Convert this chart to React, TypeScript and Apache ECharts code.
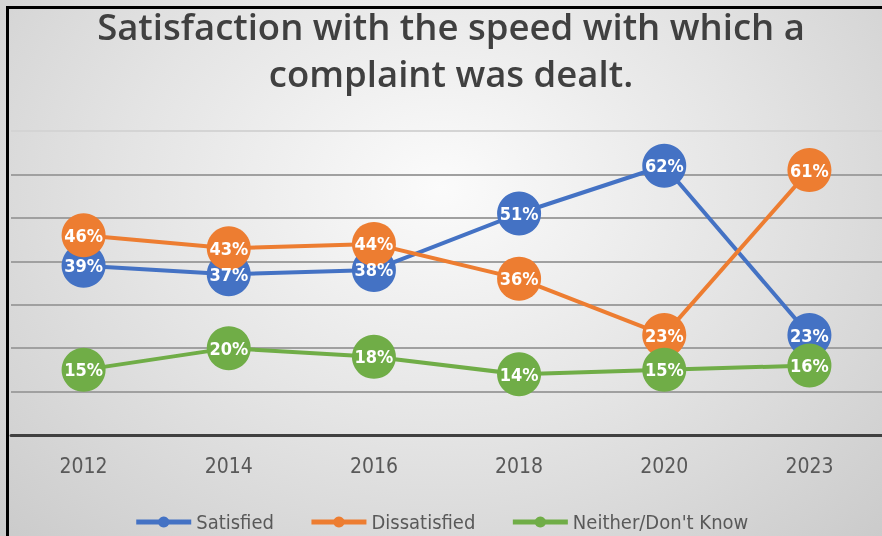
import React, { useEffect, useRef } from "react";
import * as echarts from "echarts";

const years = ["2012", "2014", "2016", "2018", "2020", "2023"];
const satisfied = [39, 37, 38, 51, 62, 23];
const dissatisfied = [46, 43, 44, 36, 23, 61];
const neither = [15, 20, 18, 14, 15, 16];
const seriesNames = ["Satisfied", "Dissatisfied", "Neither/Don't Know"];
const colors = ["#4472C4", "#ED7D31", "#70AD47"];

export default function App() {
  const ref = useRef<HTMLDivElement>(null);
  useEffect(() => {
    if (!ref.current) return;
    const chart = echarts.init(ref.current, undefined, { renderer: "svg" });
    const mk = (name: string, data: number[], color: string) => ({
      name,
      type: "line",
      data,
      symbol: "circle",
      symbolSize: 44,
      color,
      lineStyle: { width: 4, color },
      itemStyle: { color },
      label: {
        show: true,
        position: "inside",
        formatter: "{c}%",
        color: "#ffffff",
        fontFamily: "DejaVu Sans Condensed",
        fontWeight: "bold",
        fontSize: 18,
      },
    });
    chart.setOption({
      animation: false,
      title: {
        text: "Satisfaction with the speed with which a\ncomplaint was dealt.",
        left: 451,
        textAlign: "center",
        top: 2,
        padding: 0,
        textStyle: {
          fontFamily: "Open Sans",
          fontWeight: 600,
          fontSize: 36.5,
          lineHeight: 47,
          color: "#404040",
        },
      },
      legend: {
        top: 507,
        left: "center",
        itemWidth: 55,
        itemHeight: 14,
        itemGap: 35,
        lineStyle: { width: 5 },
        textStyle: { fontFamily: "DejaVu Sans Condensed", fontSize: 20, color: "#595959" },
        data: seriesNames,
      },
      grid: { left: 11, right: -11, top: 131, bottom: 101 },
      xAxis: {
        type: "category",
        data: years,
        boundaryGap: true,
        axisTick: { show: false },
        axisLine: { lineStyle: { color: "#404040", width: 3 } },
        axisLabel: {
          margin: 20,
          fontFamily: "DejaVu Sans Condensed",
          fontSize: 21,
          color: "#595959",
        },
      },
      yAxis: {
        type: "value",
        min: 0,
        max: 70,
        interval: 10,
        axisLabel: { show: false },
        axisLine: { show: false },
        axisTick: { show: false },
        splitLine: {
          lineStyle: {
            width: 2,
            color: ["#a0a0a0", "#a0a0a0", "#a0a0a0", "#a0a0a0", "#a0a0a0", "#a0a0a0", "#a0a0a0", "#d4d4d4"],
          },
        },
      },
      series: [
        mk(seriesNames[0], satisfied, colors[0]),
        mk(seriesNames[1], dissatisfied, colors[1]),
        mk(seriesNames[2], neither, colors[2]),
      ],
    });
    return () => chart.dispose();
  }, []);
  return (
    <div
      style={{
        position: "fixed",
        left: 0,
        top: 0,
        width: 882,
        height: 536,
        background: "radial-gradient(ellipse at 50% 35%, #fbfbfb 0%, #e4e4e4 50%, #cbcbcb 100%)",
        overflow: "hidden",
      }}
    >
      <div
        style={{
          position: "absolute",
          left: 6,
          top: 6,
          width: 900,
          height: 600,
          borderLeft: "3px solid #000",
          borderTop: "3px solid #000",
        }}
      />
      <div ref={ref} style={{ position: "absolute", left: 0, top: 0, width: 882, height: 536 }} />
    </div>
  );
}
